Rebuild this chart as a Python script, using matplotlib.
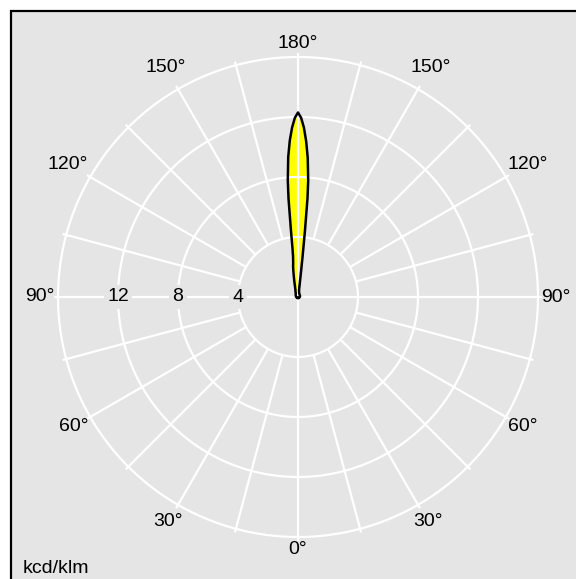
import numpy as np
import matplotlib
matplotlib.use("Agg")
import matplotlib.pyplot as plt
from matplotlib.patches import Rectangle

plt.rcParams['font.family'] = ['Liberation Sans', 'DejaVu Sans']

# --- data: gamma angle (deg, 0 = down, 180 = up) and intensity (kcd/klm) ---
gamma = [0, 15, 30, 45, 60, 75, 90, 105, 120, 135, 150, 155, 160, 163, 166,
         168, 170, 171, 172, 172.5, 173, 173.5, 174, 174.5, 175, 176, 177,
         178, 179, 180]
# left half of the plot
i_left = [0.06, 0.06, 0.07, 0.08, 0.09, 0.10, 0.12, 0.14, 0.17, 0.22, 0.30,
          0.40, 0.50, 0.65, 0.95, 1.30, 1.80, 2.10, 2.30, 2.50, 2.70, 3.20,
          4.60, 6.60, 7.80, 9.35, 10.45, 11.30, 11.95, 12.3]
# right half of the plot
i_right = [0.06, 0.06, 0.07, 0.08, 0.09, 0.10, 0.12, 0.14, 0.15, 0.17, 0.20,
           0.22, 0.25, 0.27, 0.30, 0.35, 0.40, 0.45, 0.60, 0.90, 1.40, 2.60,
           4.40, 6.60, 7.80, 9.30, 10.40, 11.30, 11.95, 12.3]

ring_values = [4, 8, 12, 16]
ring_labels = ['4', '8', '12']
angle_ticks = [0, 30, 60, 90, 120, 150, 180]
angle_label_r = [16.8, 17.3, 17.3, 17.2, 17.7, 17.7, 16.9]

bg = '#e5e5e5'

fig = plt.figure(figsize=(5.76, 5.79), dpi=100)
fig.patch.set_facecolor('white')

# grey panel with black frame
frame = Rectangle((10.5 / 576, -0.02), 1.1, (579 - 10.5) / 579 + 0.02,
                  transform=fig.transFigure, facecolor=bg, edgecolor='black',
                  linewidth=1.6, zorder=-5)
fig.patches.append(frame)

R = 18
pr = 270  # pixel radius for R
ax = fig.add_axes([(298 - pr) / 576, (579 - 297 - pr) / 579, 2 * pr / 576, 2 * pr / 579],
                  projection='polar')
ax.set_zorder(1)
ax.set_theta_zero_location('S')
ax.set_theta_direction(1)
ax.set_rlim(0, R)
ax.patch.set_visible(False)
ax.spines['polar'].set_visible(False)
ax.grid(False)
ax.set_xticks([])
ax.set_yticks([])

# lobe: right side gamma 0..180, then left side back
th_r = np.deg2rad(gamma)
th_l = np.deg2rad(-np.array(gamma))
theta = np.concatenate([th_r, th_l[::-1]])
rr = np.concatenate([i_right, i_left[::-1]])
ax.fill(theta, rr, color='#ffff00', zorder=1, linewidth=0)

# grid
circ = np.linspace(0, 2 * np.pi, 721)
for rv in ring_values:
    ax.plot(circ, np.full_like(circ, rv), color='white', lw=1.6, zorder=2)
for a in range(0, 360, 15):
    t = np.deg2rad(a)
    r0 = 0 if a % 90 == 0 else 4
    ax.plot([t, t], [r0, 16.25], color='white', lw=1.6, zorder=2,
            solid_capstyle='butt')

# outline
ax.plot(np.append(theta, theta[0]), np.append(rr, rr[0]), color='black',
        lw=1.8, zorder=4, solid_joinstyle='round')

# radial labels
for rv, lab in zip(ring_values, ring_labels):
    ax.text(np.deg2rad(270), rv, lab, ha='center', va='center', fontsize=14,
            zorder=3, bbox=dict(facecolor=bg, edgecolor='none', pad=2.5))

# angle labels on both sides
for a, lr in zip(angle_ticks, angle_label_r):
    for sgn in (1, -1):
        if sgn == -1 and a in (0, 180):
            continue
        ax.text(np.deg2rad(sgn * a), lr, f'{a}°', ha='center', va='center',
                fontsize=14, zorder=3)

fig.text(23 / 576, (579 - 573) / 579, 'kcd/klm', ha='left', va='baseline',
         fontsize=14)

fig.savefig('out.png', dpi=100)
